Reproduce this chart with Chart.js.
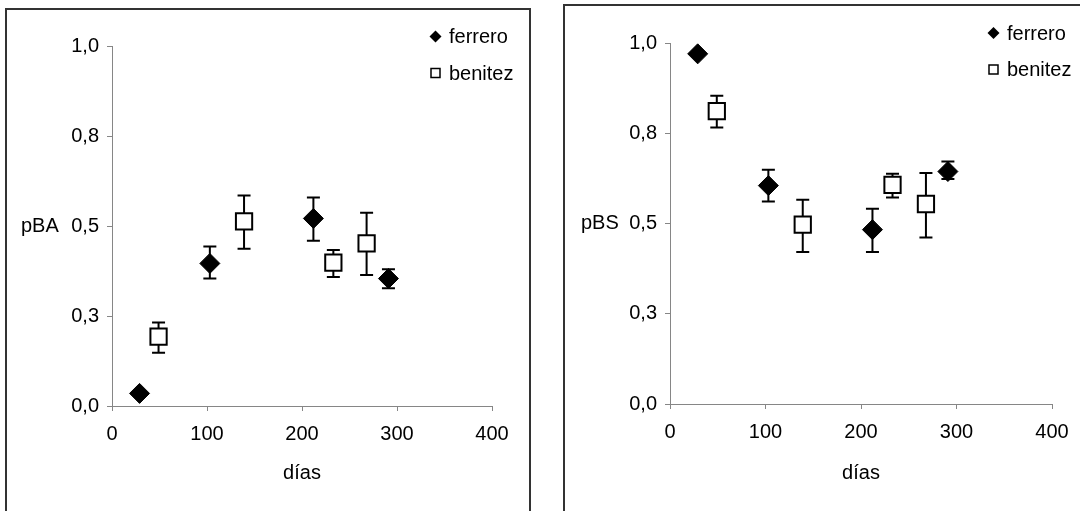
<!DOCTYPE html>
<html lang="es">
<head>
    <meta charset="UTF-8">
    <title>pBA / pBS</title>
    <script src="https://cdn.jsdelivr.net/npm/chart.js"></script>
    <style>
        body { margin: 0; background: #fff; width: 1080px; height: 511px; overflow: hidden; position: relative; }
        .panel { position: absolute; top: 0; width: 540px; height: 511px; }
        .frame { position: absolute; border: 2px solid #333; box-sizing: border-box; pointer-events: none; }
    </style>
</head>
<body>
    <div class="panel" style="left:0"><canvas id="chartBA" width="540" height="511"></canvas></div>
    <div class="panel" style="left:540px"><canvas id="chartBS" width="540" height="511"></canvas></div>
    <div class="frame" style="left:5px; top:8px; width:526px; height:520px;"></div>
    <div class="frame" style="left:563px; top:4px; width:530px; height:520px;"></div>

    <script>
        // sampling days
        const ferreroDays = [29, 103, 212, 291];
        const benitezDays = [49, 139, 233, 268];

        // pBA (mean, upper and lower error limits)
        const ferreroBA   = [0.035, 0.396, 0.521, 0.354];
        const ferreroBAHi = [null, 0.443, 0.579, 0.380];
        const ferreroBALo = [null, 0.354, 0.459, 0.327];
        const benitezBA   = [0.193, 0.513, 0.398, 0.452];
        const benitezBAHi = [0.232, 0.585, 0.433, 0.537];
        const benitezBALo = [0.148, 0.437, 0.358, 0.364];

        // pBS
        const ferreroBS   = [0.970, 0.605, 0.483, 0.644];
        const ferreroBSHi = [null, 0.649, 0.541, 0.672];
        const ferreroBSLo = [null, 0.561, 0.421, 0.623];
        const benitezBS   = [0.811, 0.497, 0.607, 0.554];
        const benitezBSHi = [0.854, 0.566, 0.638, 0.640];
        const benitezBSLo = [0.766, 0.421, 0.572, 0.461];

        const yTickLabels = ['0,0', '0,3', '0,5', '0,8', '1,0'];
        const xTickLabels = ['0', '100', '200', '300', '400'];

        const FONT = 'Arial, "Liberation Sans", sans-serif';
        const FONT_SIZE = 20;
        const AXIS_GREY = '#868686';

        const toPoints = (xs, ys) => xs.map((x, i) => ({ x: x, y: ys[i] }));

        // vertical error bars with caps, drawn under the markers
        const errorBars = {
            id: 'errorBars',
            beforeDatasetsDraw(chart) {
                const ctx = chart.ctx;
                const xs = chart.scales.x, ys = chart.scales.y;
                ctx.save();
                ctx.strokeStyle = '#000';
                ctx.lineWidth = 2;
                chart.data.datasets.forEach(ds => {
                    ds.data.forEach((p, i) => {
                        const hi = ds.errHi[i], lo = ds.errLo[i];
                        if (hi == null || lo == null) return;
                        const px = xs.getPixelForValue(p.x);
                        const yHi = ys.getPixelForValue(hi);
                        const yLo = ys.getPixelForValue(lo);
                        const cap = 6.5;
                        ctx.beginPath();
                        ctx.moveTo(px, yHi); ctx.lineTo(px, yLo);
                        ctx.moveTo(px - cap, yHi); ctx.lineTo(px + cap, yHi);
                        ctx.moveTo(px - cap, yLo); ctx.lineTo(px + cap, yLo);
                        ctx.stroke();
                    });
                });
                ctx.restore();
            }
        };

        // horizontal y-axis caption and the small legend in the top right corner
        const annotations = {
            id: 'annotations',
            afterDraw(chart, args, opts) {
                const ctx = chart.ctx;
                ctx.save();
                ctx.fillStyle = '#000';
                ctx.font = FONT_SIZE + 'px ' + FONT;
                ctx.textBaseline = 'middle';
                ctx.textAlign = 'left';
                ctx.fillText(opts.yLabel, opts.yLabelX, chart.scales.y.getPixelForValue(0.5));

                chart.data.datasets.forEach((ds, i) => {
                    const mx = opts.legendX;
                    const my = opts.legendY + i * 36.5;
                    ctx.beginPath();
                    if (ds.pointStyle === 'rectRot') {
                        ctx.moveTo(mx - 6, my); ctx.lineTo(mx, my - 6);
                        ctx.lineTo(mx + 6, my); ctx.lineTo(mx, my + 6);
                        ctx.closePath();
                        ctx.fillStyle = '#000';
                        ctx.fill();
                    } else {
                        ctx.rect(mx - 4.5, my - 4.5, 9, 9);
                        ctx.fillStyle = '#fff';
                        ctx.fill();
                        ctx.lineWidth = 1.5;
                        ctx.strokeStyle = '#000';
                        ctx.stroke();
                    }
                    ctx.fillStyle = '#000';
                    ctx.fillText(ds.label, mx + 13.5, my + 1);
                });
                ctx.restore();
            }
        };

        function makeChart(canvasId, ferrero, benitez, opts) {
            const ctx = document.getElementById(canvasId).getContext('2d');
            return new Chart(ctx, {
                type: 'scatter',
                data: {
                    datasets: [
                        {
                            label: 'ferrero',
                            data: toPoints(ferreroDays, ferrero.y),
                            errHi: ferrero.hi,
                            errLo: ferrero.lo,
                            pointStyle: 'rectRot',
                            pointRadius: 10,
                            backgroundColor: '#000',
                            borderColor: '#000',
                            borderWidth: 1
                        },
                        {
                            label: 'benitez',
                            data: toPoints(benitezDays, benitez.y),
                            errHi: benitez.hi,
                            errLo: benitez.lo,
                            pointStyle: 'rect',
                            pointRadius: 11.5,
                            backgroundColor: '#fff',
                            borderColor: '#000',
                            borderWidth: 2
                        }
                    ]
                },
                options: {
                    responsive: false,
                    animation: false,
                    events: [],
                    layout: { padding: { left: 0, top: opts.top, right: opts.right, bottom: 0 } },
                    plugins: {
                        legend: { display: false },
                        tooltip: { enabled: false },
                        annotations: opts.annot
                    },
                    scales: {
                        x: {
                            type: 'linear',
                            min: 0, max: 400,
                            afterFit: s => { s.height = opts.xHeight; },
                            afterBuildTicks: s => { s.ticks = xTickLabels.map(t => ({ value: Number(t) })); },
                            grid: { display: true, drawOnChartArea: false, drawTicks: true, tickLength: 5, color: AXIS_GREY, lineWidth: 1 },
                            border: { display: true, color: AXIS_GREY, width: 1 },
                            ticks: {
                                padding: 11,
                                color: '#000',
                                font: { family: FONT, size: FONT_SIZE },
                                maxRotation: 0,
                                callback: (v, i) => xTickLabels[i]
                            },
                            title: {
                                display: true,
                                text: 'días',
                                color: '#000',
                                font: { family: FONT, size: FONT_SIZE },
                                padding: { top: 0, bottom: 26 }
                            }
                        },
                        y: {
                            type: 'linear',
                            min: 0, max: 1,
                            afterFit: s => { s.width = opts.yWidth; },
                            afterBuildTicks: s => { s.ticks = [0, 0.25, 0.5, 0.75, 1].map(v => ({ value: v })); },
                            grid: { display: true, drawOnChartArea: false, drawTicks: true, tickLength: 5, color: AXIS_GREY, lineWidth: 1 },
                            border: { display: true, color: AXIS_GREY, width: 1 },
                            ticks: {
                                padding: 8,
                                color: '#000',
                                font: { family: FONT, size: FONT_SIZE },
                                callback: (v, i) => yTickLabels[i]
                            }
                        }
                    }
                },
                plugins: [errorBars, annotations]
            });
        }

        makeChart('chartBA',
            { y: ferreroBA, hi: ferreroBAHi, lo: ferreroBALo },
            { y: benitezBA, hi: benitezBAHi, lo: benitezBALo },
            {
                top: 46, right: 48, yWidth: 112, xHeight: 105,
                annot: { yLabel: 'pBA', yLabelX: 21, legendX: 435.5, legendY: 36.5 }
            });

        makeChart('chartBS',
            { y: ferreroBS, hi: ferreroBSHi, lo: ferreroBSLo },
            { y: benitezBS, hi: benitezBSHi, lo: benitezBSLo },
            {
                top: 43, right: 28, yWidth: 130, xHeight: 107,
                annot: { yLabel: 'pBS', yLabelX: 41, legendX: 453.5, legendY: 33 }
            });
    </script>
</body>
</html>
